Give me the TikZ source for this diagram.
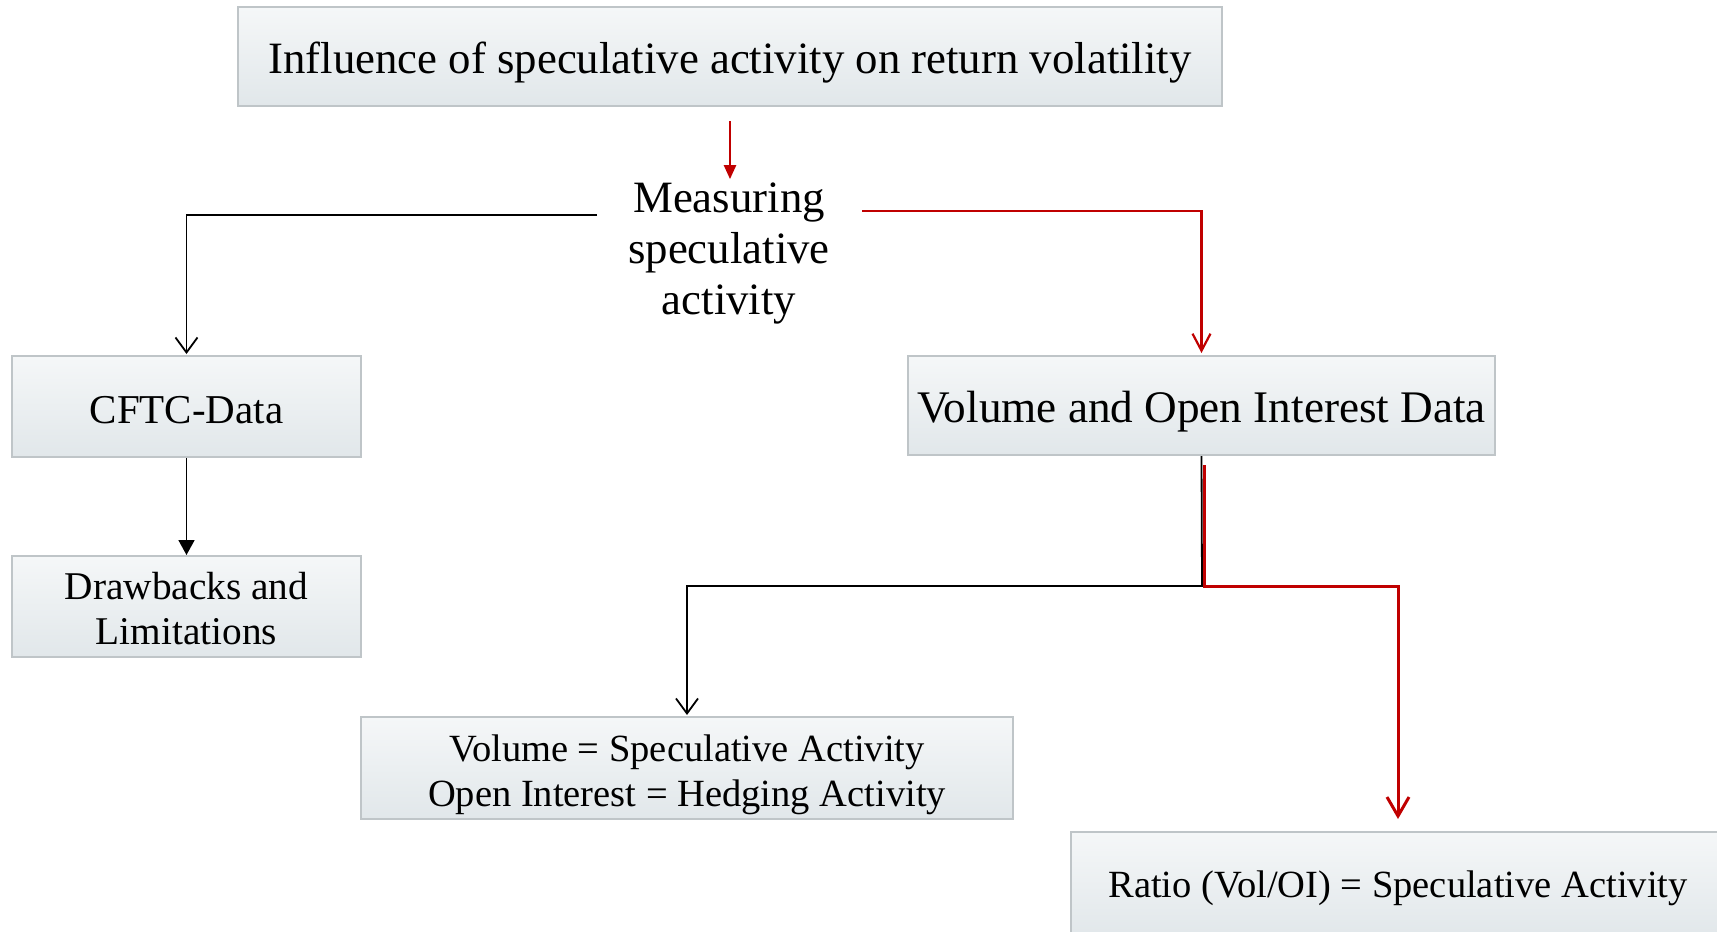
\documentclass[tikz,border=0pt]{standalone}
\usepackage{fontspec}
\setmainfont{Liberation Serif}
\usetikzlibrary{arrows.meta}
\definecolor{flowred}{HTML}{C00000}
\definecolor{boxedge}{HTML}{BFC5C8}
\definecolor{boxtop}{HTML}{F5F7F8}
\definecolor{boxbot}{HTML}{E1E7EA}
% lower a line of text inside its box without changing the box size
\newcommand{\lowerby}[2]{\raisebox{-#1}[\height][\depth]{#2}}
\tikzset{
  box/.style={draw=boxedge, line width=2pt, top color=boxtop, bottom color=boxbot,
    inner sep=0pt, align=center, text=black},
  bigtext/.style={font=\fontsize{44.8}{51}\selectfont},
  smalltext/.style={font=\fontsize{38.5}{45}\selectfont},
  blk/.style={draw=black, line width=1.8pt},
  rd/.style={draw=flowred, line width=2.4pt},
  vtip/.style={-{Straight Barb[length=15pt,width=22pt,line width=1.8pt]}},
  ftip/.style={-{Triangle[length=15pt,width=16pt]}},
}
\begin{document}
\begin{tikzpicture}[x=1pt,y=-1pt]
\useasboundingbox (0,0) rectangle (1717,932);
\clip (0,0) rectangle (1717,932);

% boxes
\node[box, bigtext, minimum width=984pt, minimum height=99pt] (top) at (730,56.5)
  {\lowerby{6.5pt}{Influence of speculative activity on return volatility}};
\node[bigtext, align=center, inner sep=2pt] (meas) at (729,253)
  {Measuring\\speculative\\activity};
\node[box, font=\fontsize{41}{51}\selectfont, minimum width=349pt, minimum height=101pt] (cftc) at (186.5,406.5)
  {\lowerby{3.5pt}{CFTC-Data}};
\node[box, font=\fontsize{45.2}{51}\selectfont, minimum width=587pt, minimum height=99pt] (voi) at (1201.5,405.5)
  {\lowerby{6.5pt}{Volume and Open Interest Data}};
\node[box, font=\fontsize{39.3}{45}\selectfont, minimum width=349pt, minimum height=101pt] (drw) at (186.5,606.5)
  {\lowerby{2pt}{Drawbacks and}\\\lowerby{2pt}{Limitations}};
\node[box, smalltext, minimum width=652pt, minimum height=102pt] (vol) at (687,768)
  {\lowerby{6.5pt}{Volume = Speculative Activity}\\\lowerby{6.5pt}{Open Interest = Hedging Activity}};
\node[box, smalltext, minimum width=654pt, minimum height=106pt] (ratio) at (1398,885)
  {\lowerby{3.5pt}{Ratio (Vol/OI) = Speculative Activity}};

% branch points
\coordinate (mL) at (597,215);
\coordinate (mR) at (862,211);
\coordinate (jn) at (1202,586);
\coordinate (rs) at (1204,465);

% connectors
\draw[rd, -{Triangle[length=14pt,width=12pt]}] ([yshift=-14pt]top.south) -- ([yshift=1pt]top.south |- meas.north);
\draw[blk, vtip] (mL) -| ([yshift=1pt]cftc.north);
\draw[rd, -{Straight Barb[length=17pt,width=18pt,line width=2.2pt]}] (mR) -| ([yshift=2pt]voi.north);
\draw[blk, ftip] (cftc.south) -- (drw.north);
\draw[blk, vtip] (voi.south) -- (jn) -| ([yshift=1pt]vol.north);
\draw[rd, line width=3pt, -{Straight Barb[length=19pt,width=22pt,line width=3pt]}] (rs) -- (rs |- jn) -| ([yshift=12pt]ratio.north);
\end{tikzpicture}
\end{document}
